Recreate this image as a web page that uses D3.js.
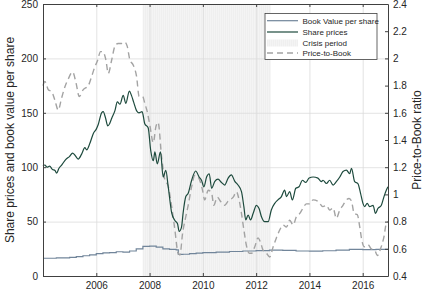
<!DOCTYPE html>
<html>
<head>
<meta charset="utf-8">
<script src="https://cdn.jsdelivr.net/npm/d3@7"></script>
<style>
  body { margin: 0; background: #fff; }
  text { font-family: "Liberation Sans", Arial, sans-serif; fill: #262626; }
</style>
</head>
<body>
<svg id="chart"></svg>
<script>
// share price (left axis)
const priceYears = [2004.0, 2004.07, 2004.15, 2004.25, 2004.35, 2004.45, 2004.51, 2004.6, 2004.7, 2004.85, 2005.0, 2005.11, 2005.2, 2005.32, 2005.45, 2005.57, 2005.64, 2005.76, 2005.89, 2006.0, 2006.07, 2006.2, 2006.26, 2006.35, 2006.43, 2006.5, 2006.58, 2006.7, 2006.79, 2006.89, 2007.01, 2007.11, 2007.24, 2007.32, 2007.4, 2007.51, 2007.6, 2007.72, 2007.82, 2007.95, 2008.04, 2008.14, 2008.2, 2008.29, 2008.41, 2008.51, 2008.61, 2008.7, 2008.83, 2008.95, 2009.05, 2009.11, 2009.2, 2009.26, 2009.36, 2009.45, 2009.58, 2009.73, 2009.86, 2009.95, 2010.04, 2010.14, 2010.24, 2010.33, 2010.45, 2010.57, 2010.7, 2010.82, 2010.95, 2011.07, 2011.2, 2011.32, 2011.45, 2011.54, 2011.61, 2011.7, 2011.79, 2011.89, 2012.01, 2012.11, 2012.2, 2012.32, 2012.45, 2012.57, 2012.7, 2012.82, 2012.95, 2013.07, 2013.14, 2013.26, 2013.36, 2013.49, 2013.61, 2013.74, 2013.86, 2013.99, 2014.14, 2014.32, 2014.45, 2014.51, 2014.64, 2014.76, 2014.89, 2015.01, 2015.14, 2015.26, 2015.39, 2015.51, 2015.58, 2015.7, 2015.82, 2015.92, 2016.01, 2016.07, 2016.17, 2016.26, 2016.39, 2016.48, 2016.57, 2016.7, 2016.8, 2016.89, 2016.95];
const priceValues = [101, 102, 100, 101, 98, 97, 94.5, 99, 102, 107, 110, 113, 111, 107.5, 112, 118, 116, 122, 131, 135, 139, 150, 151, 145, 138, 140, 145, 152, 160, 158, 166, 158.7, 170, 166, 160, 152, 150, 151, 140, 136, 116, 106, 114, 103, 114, 91, 97, 82, 58, 51, 48, 41, 45, 58, 73, 76, 88, 96.5, 91, 88, 82, 91, 94, 80.6, 87, 89, 86, 83.6, 90, 93, 87, 83.6, 77.5, 63.7, 51.5, 56, 51.5, 57.6, 65, 62, 54.5, 50, 50, 60.7, 66.8, 70, 73, 79, 73, 77.5, 70, 80.6, 82, 88, 86, 90, 91, 90, 86.7, 88, 85, 88, 83.6, 86.7, 91, 96, 97.4, 94, 99, 86.7, 85, 76, 66.8, 63.7, 66.8, 63.7, 65, 57.6, 62, 65, 73, 79, 82];

// book value per share (left axis, stepped)
const bookYears = [2004.0, 2004.5, 2005.0, 2005.25, 2005.5, 2005.75, 2006.0, 2006.25, 2006.5, 2006.75, 2007.0, 2007.25, 2007.5, 2007.75, 2008.0, 2008.25, 2008.5, 2008.75, 2009.0, 2009.08, 2009.25, 2009.5, 2009.75, 2010.0, 2010.5, 2011.0, 2011.5, 2012.0, 2012.5, 2013.0, 2013.5, 2014.0, 2014.5, 2015.0, 2015.5, 2016.0, 2016.5, 2016.95];
const bookValues = [16.3, 16.6, 17.2, 17.8, 18.6, 19.5, 20.5, 21.2, 21.5, 22.3, 22.0, 23.0, 25.0, 27.3, 27.5, 26.5, 25.0, 24.5, 24.0, 19.8, 20.0, 20.6, 21.0, 21.5, 22.0, 22.5, 23.0, 23.3, 23.8, 23.5, 23.0, 22.8, 23.2, 23.8, 24.5, 24.3, 24.5, 25.0];

// price-to-book (right axis)
const pbYears = [2004.0, 2004.07, 2004.2, 2004.33, 2004.45, 2004.57, 2004.7, 2004.82, 2004.95, 2005.11, 2005.24, 2005.36, 2005.51, 2005.7, 2005.83, 2005.95, 2006.04, 2006.16, 2006.24, 2006.36, 2006.45, 2006.58, 2006.7, 2006.82, 2006.95, 2007.07, 2007.16, 2007.26, 2007.39, 2007.51, 2007.61, 2007.74, 2007.82, 2007.91, 2008.01, 2008.14, 2008.24, 2008.32, 2008.45, 2008.57, 2008.7, 2008.83, 2008.95, 2009.07, 2009.14, 2009.24, 2009.36, 2009.45, 2009.58, 2009.7, 2009.82, 2009.91, 2009.99, 2010.07, 2010.2, 2010.33, 2010.41, 2010.54, 2010.66, 2010.82, 2010.95, 2011.14, 2011.26, 2011.36, 2011.45, 2011.54, 2011.64, 2011.74, 2011.83, 2011.95, 2012.07, 2012.16, 2012.26, 2012.39, 2012.51, 2012.64, 2012.76, 2012.89, 2013.01, 2013.14, 2013.26, 2013.39, 2013.51, 2013.64, 2013.76, 2013.89, 2014.01, 2014.14, 2014.32, 2014.51, 2014.64, 2014.76, 2014.89, 2015.01, 2015.14, 2015.26, 2015.39, 2015.49, 2015.58, 2015.68, 2015.8, 2015.89, 2015.97, 2016.07, 2016.2, 2016.32, 2016.45, 2016.55, 2016.67, 2016.8, 2016.89, 2016.95];
const pbValues = [1.80, 1.83, 1.77, 1.755, 1.69, 1.62, 1.71, 1.79, 1.85, 1.90, 1.82, 1.72, 1.77, 1.80, 1.87, 1.94, 1.98, 2.05, 2.05, 1.99, 1.89, 1.99, 2.09, 2.11, 2.11, 2.12, 2.09, 1.99, 1.95, 1.87, 1.72, 1.72, 1.67, 1.61, 1.51, 1.38, 1.50, 1.53, 1.28, 1.11, 1.06, 0.91, 0.74, 0.567, 0.554, 0.714, 0.836, 0.92, 1.057, 1.14, 1.13, 1.09, 1.03, 0.96, 1.03, 1.01, 0.92, 0.98, 0.95, 0.92, 0.95, 0.98, 1.02, 0.96, 0.86, 0.74, 0.62, 0.567, 0.567, 0.615, 0.68, 0.65, 0.59, 0.567, 0.54, 0.615, 0.68, 0.74, 0.775, 0.76, 0.81, 0.775, 0.836, 0.86, 0.90, 0.93, 0.93, 0.96, 0.95, 0.91, 0.92, 0.885, 0.90, 0.824, 0.885, 0.92, 0.96, 0.97, 0.95, 0.86, 0.85, 0.76, 0.66, 0.615, 0.63, 0.60, 0.59, 0.55, 0.60, 0.69, 0.79, 0.80];

const crisis = [2007.74, 2012.55];
const xTicks = [2006, 2008, 2010, 2012, 2014, 2016];
const leftTicks = [0, 50, 100, 150, 200, 250];
const rightTicks = [0.4, 0.6, 0.8, 1, 1.2, 1.4, 1.6, 1.8, 2, 2.2, 2.4];
const legendLabels = ['Book Value per share', 'Share prices', 'Crisis period', 'Price-to-Book'];

const W = 425, H = 292;
const margin = {left: 43, right: 37, top: 4, bottom: 16};
const width = W - margin.left - margin.right;
const height = H - margin.top - margin.bottom;

const svg = d3.select('#chart').attr('width', W).attr('height', H);

// faint hatch for the crisis band
const defs = svg.append('defs');
const pat = defs.append('pattern').attr('id', 'hatch').attr('patternUnits', 'userSpaceOnUse')
  .attr('width', 2).attr('height', 2);
pat.append('rect').attr('width', 2).attr('height', 2).attr('fill', '#f4f4f4');
pat.append('rect').attr('width', 1).attr('height', 2).attr('fill', '#efefef');

const chart = svg.append('g').attr('transform', `translate(${margin.left}, ${margin.top})`);

const x = d3.scaleLinear().domain([2004, 2016.95]).range([0, width]);
const yL = d3.scaleLinear().domain([0, 250]).range([height, 0]);
const yR = d3.scaleLinear().domain([0.4, 2.4]).range([height, 0]);

// crisis shading
chart.append('rect')
  .attr('x', x(crisis[0])).attr('y', 0)
  .attr('width', x(crisis[1]) - x(crisis[0])).attr('height', height)
  .attr('fill', 'url(#hatch)');

// grid
chart.append('g').attr('class', 'grid')
  .call(d3.axisLeft(yL).tickValues(leftTicks).tickSize(-width).tickFormat(''))
  .call(g => g.select('.domain').remove())
  .selectAll('line').attr('stroke', '#dcdcdc').attr('stroke-width', 0.8);
chart.append('g').attr('class', 'grid')
  .attr('transform', `translate(0, ${height})`)
  .call(d3.axisBottom(x).tickValues(xTicks).tickSize(-height).tickFormat(''))
  .call(g => g.select('.domain').remove())
  .selectAll('line').attr('stroke', '#dcdcdc').attr('stroke-width', 0.8);

// lines
const bookData = bookYears.map((t, i) => [t, bookValues[i]]);
const priceData = priceYears.map((t, i) => [t, priceValues[i]]);
const pbData = pbYears.map((t, i) => [t, pbValues[i]]);

chart.append('path').datum(bookData)
  .attr('fill', 'none').attr('stroke', '#71859a').attr('stroke-width', 1.2)
  .attr('d', d3.line().x(d => x(d[0])).y(d => yL(d[1])).curve(d3.curveStepAfter));

chart.append('path').datum(pbData)
  .attr('fill', 'none').attr('stroke', '#a3a3a3').attr('stroke-width', 1.4)
  .attr('stroke-dasharray', '6,4')
  .attr('d', d3.line().x(d => x(d[0])).y(d => yR(d[1])).curve(d3.curveMonotoneX));

chart.append('path').datum(priceData)
  .attr('fill', 'none').attr('stroke', '#1d4a3d').attr('stroke-width', 1.2)
  .attr('d', d3.line().x(d => x(d[0])).y(d => yL(d[1])).curve(d3.curveMonotoneX));

// axes (matlab style box, ticks inside)
const axisColor = '#404040';
function styleAxis(g) {
  g.select('.domain').attr('stroke', axisColor);
  g.selectAll('.tick line').attr('stroke', axisColor);
  g.selectAll('.tick text').style('font-size', '10px').attr('fill', '#262626');
}
chart.append('g').attr('transform', `translate(0, ${height})`)
  .call(d3.axisBottom(x).tickValues(xTicks).tickFormat(d3.format('d')).tickSizeInner(-3).tickSizeOuter(0).tickPadding(6))
  .call(styleAxis);
chart.append('g')
  .call(d3.axisTop(x).tickValues(xTicks).tickFormat('').tickSizeInner(-3).tickSizeOuter(0))
  .call(styleAxis);
chart.append('g')
  .call(d3.axisLeft(yL).tickValues(leftTicks).tickSizeInner(-3).tickSizeOuter(0).tickPadding(5))
  .call(styleAxis);
chart.append('g').attr('transform', `translate(${width}, 0)`)
  .call(d3.axisRight(yR).tickValues(rightTicks).tickFormat(d3.format('~g')).tickSizeInner(-3).tickSizeOuter(0).tickPadding(5))
  .call(styleAxis);

// axis titles
svg.append('text')
  .attr('transform', `translate(14, ${margin.top + height / 2}) rotate(-90)`)
  .attr('text-anchor', 'middle').style('font-size', '12px')
  .text('Share prices and book value per share');
svg.append('text')
  .attr('transform', `translate(${W - 4}, ${margin.top + height / 2}) rotate(-90)`)
  .attr('text-anchor', 'middle').style('font-size', '12px')
  .text('Price-to-Book ratio');

// legend
const lg = chart.append('g').attr('transform', `translate(${265 - margin.left}, ${13.5 - margin.top})`);
lg.append('rect').attr('width', 112).attr('height', 46)
  .attr('fill', '#fff').attr('stroke', '#404040').attr('stroke-width', 0.8);
const rowY = [7.2, 18.5, 29.5, 39.5];
lg.selectAll('.lab').data(legendLabels).enter().append('text')
  .attr('x', 37.5).attr('y', (d, i) => rowY[i] + 3)
  .style('font-size', '8px').text(d => d);
lg.append('line').attr('x1', 2).attr('x2', 33).attr('y1', rowY[0]).attr('y2', rowY[0])
  .attr('stroke', '#71859a').attr('stroke-width', 1.2);
lg.append('line').attr('x1', 2).attr('x2', 33).attr('y1', rowY[1]).attr('y2', rowY[1])
  .attr('stroke', '#1d4a3d').attr('stroke-width', 1.2);
lg.append('rect').attr('x', 2).attr('y', rowY[2] - 3.5).attr('width', 31).attr('height', 7)
  .attr('fill', 'url(#hatch)');
lg.append('line').attr('x1', 2).attr('x2', 33).attr('y1', rowY[3]).attr('y2', rowY[3])
  .attr('stroke', '#a3a3a3').attr('stroke-width', 1.4).attr('stroke-dasharray', '6,4');
</script>
</body>
</html>
